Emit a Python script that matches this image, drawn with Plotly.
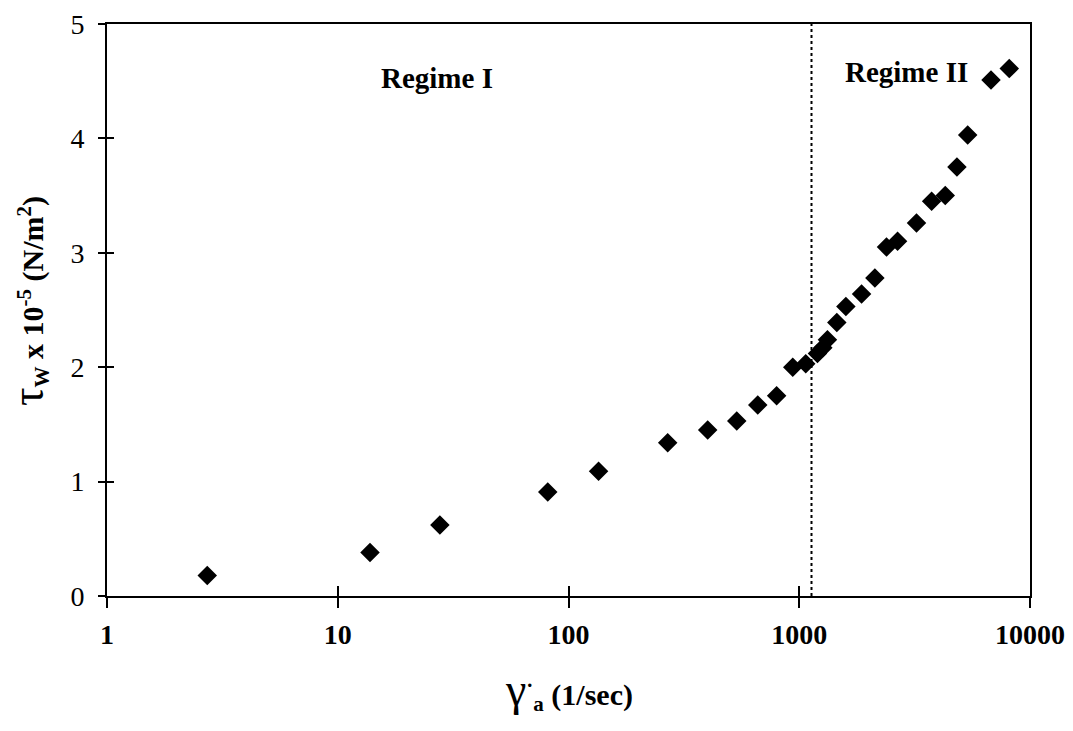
import plotly.graph_objects as go

# Apparent shear rate (1/sec) and wall shear stress (x 10^-5 N/m^2)
shear_rate = [2.72, 13.8, 27.7, 81.3, 135, 269, 401, 536, 661, 798, 937, 1067,
              1199, 1265, 1325, 1455, 1592, 1862, 2127, 2389, 2668, 3223, 3746,
              4294, 4823, 5370, 6775, 8131]
wall_stress = [0.18, 0.38, 0.62, 0.91, 1.09, 1.34, 1.45, 1.53, 1.67, 1.75, 2.00, 2.03,
               2.12, 2.17, 2.24, 2.39, 2.53, 2.64, 2.78, 3.05, 3.10, 3.26, 3.45,
               3.50, 3.75, 4.03, 4.51, 4.61]

regime_boundary = 1130
x_ticks = [1, 10, 100, 1000, 10000]
y_ticks = [0, 1, 2, 3, 4, 5]

serif = "Liberation Serif"

fig = go.Figure()

fig.add_trace(go.Scatter(
    x=shear_rate, y=wall_stress, mode="markers",
    marker=dict(symbol="diamond", size=15, color="black"),
    showlegend=False, hoverinfo="x+y",
))

# dotted boundary between the two regimes
fig.add_trace(go.Scatter(
    x=[regime_boundary, regime_boundary], y=[0, 5], mode="lines",
    line=dict(color="black", width=2, dash="dot"),
    showlegend=False, hoverinfo="skip",
))

axis_common = dict(showgrid=False, zeroline=False, linecolor="black", linewidth=2,
                   mirror=True, tickcolor="black", tickwidth=2, automargin=False)

fig.update_layout(
    width=1073, height=731,
    margin=dict(l=107, r=43, t=24, b=135),
    paper_bgcolor="white", plot_bgcolor="white",
    xaxis=dict(type="log", range=[0, 4], tickvals=x_ticks,
               ticktext=[str(v) for v in x_ticks],
               ticks="outside", ticklen=10, ticklabelstandoff=2,
               tickfont=dict(family=serif, size=28, color="black", weight="bold"),
               **axis_common),
    yaxis=dict(range=[0, 5], tickvals=y_ticks,
               ticks="outside", ticklen=7, ticklabelstandoff=8,
               tickfont=dict(family=serif, size=28, color="black"),
               **axis_common),
    # companion axes that draw the inner half of each tick mark
    xaxis2=dict(type="log", range=[0, 4], overlaying="x", matches="x",
                tickvals=x_ticks, ticks="inside", ticklen=10, tickwidth=2,
                tickcolor="black", showticklabels=False, showgrid=False,
                zeroline=False, showline=False, side="bottom", automargin=False),
    yaxis2=dict(range=[0, 5], overlaying="y", matches="y",
                tickvals=y_ticks, ticks="inside", ticklen=7, tickwidth=2,
                tickcolor="black", showticklabels=False, showgrid=False,
                zeroline=False, showline=False, side="left", automargin=False),
)

fig.add_trace(go.Scatter(x=[1], y=[0], xaxis="x2", yaxis="y2", mode="markers",
                         marker=dict(opacity=0), showlegend=False, hoverinfo="skip"))

fig.add_annotation(text="Regime I", x=0.357, y=0.906, xref="paper", yref="paper",
                   xanchor="center", yanchor="middle",
                   showarrow=False, font=dict(family=serif, size=29, color="black",
                                              weight="bold"))
fig.add_annotation(text="Regime II", x=0.866, y=0.916, xref="paper", yref="paper",
                   xanchor="center", yanchor="middle",
                   showarrow=False, font=dict(family=serif, size=29, color="black",
                                              weight="bold"))

# axis titles
fig.add_annotation(
    text="<span style='font-size:46px;font-weight:normal'>τ</span><sub>W</sub>"
         " x 10<sup>-5</sup> (N/m<sup>2</sup>)",
    x=-0.085, y=0.515, xref="paper", yref="paper", textangle=-90,
    xanchor="center", yanchor="middle",
    showarrow=False, font=dict(family=serif, size=30, color="black", weight="bold"))
fig.add_annotation(
    text="<span style='font-size:46px;font-weight:normal'>γ</span><sup>·</sup>"
         "<sub>a</sub> (1/sec)",
    x=0.5, y=-0.165, xref="paper", yref="paper",
    xanchor="center", yanchor="middle",
    showarrow=False, font=dict(family=serif, size=30, color="black", weight="bold"))

fig.write_html("out.html")
